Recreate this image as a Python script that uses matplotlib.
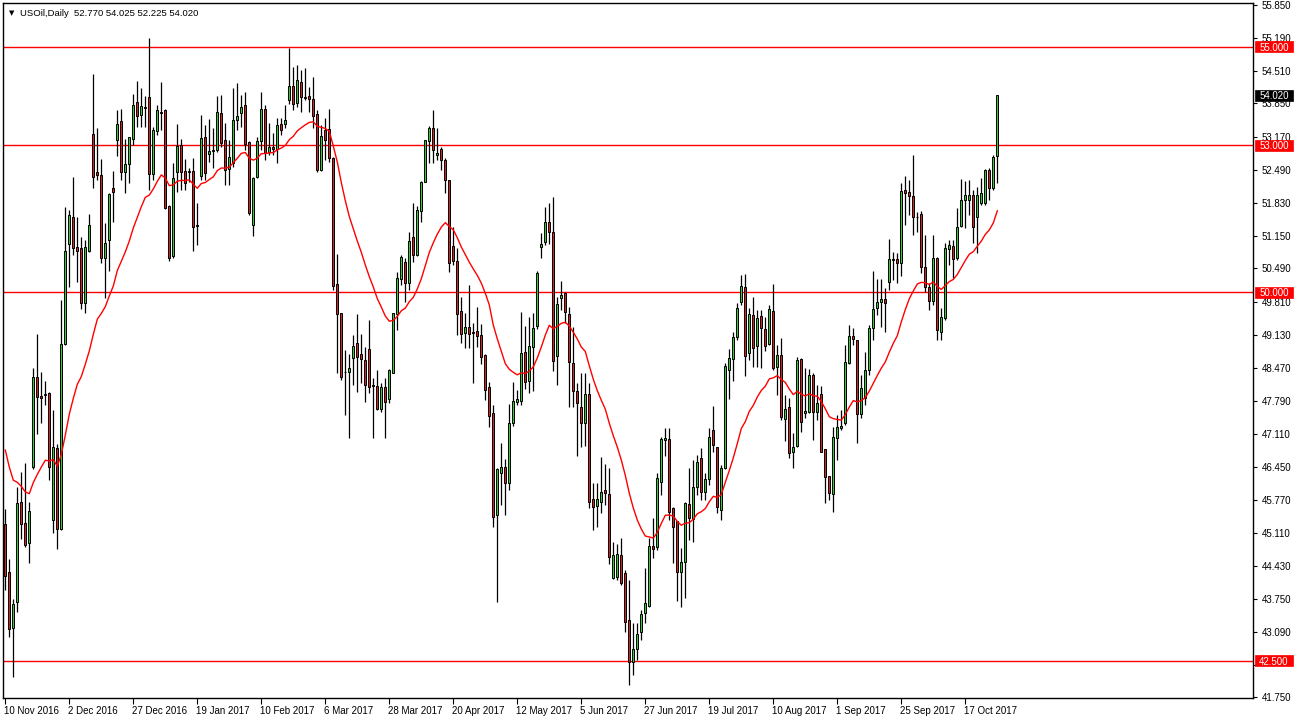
import matplotlib
matplotlib.use("Agg")
import matplotlib.pyplot as plt
import matplotlib.transforms as mtransforms
from matplotlib.patches import Rectangle

# USOil daily, 10 Nov 2016 .. 27 Oct 2017
opens = [45.28, 44.31, 43.16, 43.69, 45.73, 45.30, 44.90, 46.44, 48.28, 47.89,
         47.93, 47.95, 45.36, 46.83, 45.18, 48.95, 50.99, 51.54, 50.93, 50.91,
         49.79, 50.84, 53.23, 52.45, 52.39, 50.70, 51.07, 52.13, 53.11, 53.49,
         52.45, 52.62, 53.13, 53.88, 53.61, 53.78, 53.98, 52.41, 53.29, 53.68,
         53.72, 51.76, 50.74, 52.45, 53.00, 52.47, 52.47, 52.47, 51.37, 52.37,
         53.17, 52.82, 52.90, 52.90, 53.66, 53.11, 52.51, 52.64, 53.51, 53.66,
         53.82, 53.06, 51.37, 52.35, 53.08, 53.74, 52.86, 52.96, 52.92, 53.43,
         53.43, 53.92, 54.21, 53.86, 54.29, 53.98, 54.00, 53.94, 53.63, 52.49,
         53.31, 53.33, 52.74, 50.17, 49.58, 48.38, 48.38, 48.67, 48.97, 48.75,
         48.62, 48.85, 48.11, 48.09, 47.63, 48.07, 47.83, 48.36, 49.56, 50.27,
         50.62, 50.19, 51.13, 50.76, 51.66, 52.25, 53.08, 53.35, 52.80, 52.92,
         52.70, 52.29, 50.95, 50.64, 49.62, 49.17, 49.30, 49.19, 49.22, 49.13,
         48.73, 48.07, 47.54, 45.47, 46.32, 46.44, 46.12, 47.34, 47.77, 47.79,
         48.79, 48.20, 48.89, 49.32, 50.93, 51.03, 51.44, 51.23, 48.71, 49.89,
         49.99, 49.56, 48.56, 47.99, 47.67, 47.34, 47.93, 45.79, 45.65, 45.73,
         45.98, 45.90, 44.18, 44.20, 44.65, 44.29, 43.33, 42.47, 42.74, 43.08,
         43.47, 43.61, 44.84, 44.82, 46.14, 46.99, 47.02, 45.61, 45.34, 44.31,
         44.51, 45.69, 45.39, 46.04, 46.63, 45.94, 46.20, 47.20, 46.85, 45.57,
         46.42, 48.42, 48.64, 49.09, 49.81, 50.11, 48.77, 49.54, 48.91, 49.52,
         49.26, 48.95, 49.62, 48.48, 48.73, 47.42, 47.67, 46.75, 46.87, 48.64,
         47.54, 47.56, 48.32, 47.56, 47.93, 46.81, 46.26, 45.90, 47.04, 47.24,
         47.34, 48.56, 49.11, 49.03, 47.52, 47.85, 48.42, 49.28, 49.68, 49.81,
         49.87, 50.21, 50.68, 50.68, 50.60, 52.09, 52.05, 51.96, 51.54, 51.60,
         50.52, 50.11, 49.83, 50.70, 49.19, 49.48, 50.89, 50.95, 50.70, 51.35,
         51.88, 51.88, 51.99, 51.54, 51.82, 51.82, 52.49, 52.13, 52.770]

highs = [45.59, 44.57, 43.76, 46.04, 46.34, 46.53, 45.73, 48.46, 49.15, 48.38,
         48.20, 47.97, 47.61, 46.91, 49.85, 51.74, 51.68, 52.35, 51.54, 51.13,
         51.07, 51.60, 54.45, 53.35, 52.72, 51.41, 52.03, 52.47, 53.72, 53.74,
         53.13, 53.17, 54.04, 54.31, 54.16, 54.00, 55.18, 53.37, 53.82, 54.29,
         53.73, 51.78, 52.64, 53.43, 53.13, 52.72, 52.54, 52.74, 51.82, 53.61,
         53.41, 53.53, 53.35, 54.00, 54.02, 53.45, 53.11, 54.16, 54.27, 54.02,
         54.08, 53.08, 52.35, 53.17, 54.08, 53.82, 53.45, 53.25, 53.55, 53.55,
         53.82, 54.98, 54.59, 54.63, 54.53, 54.57, 54.19, 54.39, 53.72, 53.41,
         53.55, 53.74, 52.75, 50.78, 49.59, 48.83, 48.75, 49.13, 49.56, 49.15,
         48.89, 49.44, 48.26, 48.42, 48.15, 48.26, 48.44, 49.59, 50.42, 50.76,
         50.70, 51.23, 51.82, 51.76, 52.26, 53.11, 53.39, 53.72, 53.35, 52.96,
         52.74, 52.30, 51.33, 50.91, 49.91, 49.58, 50.15, 49.38, 49.70, 49.36,
         48.74, 48.18, 47.71, 46.42, 46.93, 46.61, 47.73, 48.18, 48.01, 49.60,
         49.32, 49.50, 49.58, 50.44, 51.21, 51.74, 51.82, 51.94, 49.91, 50.23,
         50.01, 49.70, 49.30, 48.15, 48.36, 48.36, 48.15, 46.12, 46.12, 46.65,
         46.51, 46.42, 44.92, 44.88, 44.99, 44.35, 44.14, 43.27, 43.27, 43.53,
         44.39, 44.99, 45.41, 46.32, 47.06, 47.24, 47.24, 45.62, 45.35, 44.79,
         45.73, 46.42, 46.59, 46.69, 46.83, 46.32, 47.24, 47.69, 46.86, 46.49,
         48.56, 48.85, 49.19, 49.79, 50.36, 50.38, 49.68, 49.91, 49.64, 49.64,
         49.50, 49.74, 50.17, 48.93, 49.07, 47.91, 47.85, 47.14, 48.68, 48.66,
         48.46, 48.44, 48.36, 48.11, 48.09, 46.82, 46.27, 47.26, 47.50, 47.61,
         48.93, 49.34, 49.28, 49.04, 48.32, 48.79, 49.34, 50.44, 50.27, 50.27,
         50.09, 51.09, 50.82, 50.80, 52.23, 52.37, 52.29, 52.80, 51.64, 51.66,
         51.17, 50.19, 51.17, 50.72, 49.68, 51.01, 51.07, 51.07, 51.72, 52.31,
         52.27, 52.29, 52.09, 52.15, 52.33, 52.51, 52.53, 52.80, 54.025]

lows = [43.94, 42.98, 42.17, 43.49, 44.98, 44.82, 44.49, 46.40, 47.12, 47.34,
        47.71, 46.18, 45.10, 44.77, 45.16, 48.93, 50.11, 50.76, 50.21, 49.66,
        49.58, 50.82, 52.13, 52.29, 50.60, 49.89, 50.44, 51.44, 52.78, 52.29,
        52.03, 52.23, 53.00, 53.37, 53.37, 53.37, 52.09, 52.29, 53.21, 53.31,
        51.70, 50.64, 50.70, 52.05, 52.09, 52.09, 52.25, 50.84, 50.97, 52.29,
        52.29, 52.66, 52.54, 52.86, 52.96, 52.19, 52.19, 52.56, 53.31, 53.37,
        52.90, 51.58, 51.15, 52.34, 52.90, 52.70, 52.80, 52.80, 52.64, 53.21,
        53.35, 53.84, 53.72, 53.78, 53.68, 53.92, 53.68, 53.35, 52.45, 52.48,
        52.70, 52.66, 50.05, 48.36, 48.22, 47.50, 47.04, 48.12, 47.97, 48.16,
        47.77, 47.95, 47.04, 47.61, 47.56, 47.04, 47.75, 48.35, 49.24, 50.15,
        49.81, 50.05, 50.62, 50.75, 51.44, 52.24, 52.64, 52.64, 52.70, 52.49,
        52.03, 50.42, 50.56, 49.13, 48.97, 48.87, 48.87, 48.16, 48.89, 48.54,
        47.81, 47.26, 45.22, 43.69, 45.67, 45.47, 45.98, 47.28, 47.71, 47.71,
        48.03, 47.95, 47.99, 49.26, 50.70, 50.97, 50.99, 48.40, 48.12, 49.64,
        49.38, 47.67, 47.67, 46.67, 46.85, 46.87, 45.61, 45.16, 45.22, 45.51,
        45.67, 44.47, 44.17, 44.14, 44.04, 43.08, 42.00, 42.21, 42.51, 42.92,
        43.27, 43.60, 44.59, 44.75, 45.87, 46.67, 45.36, 44.49, 43.72, 43.59,
        43.78, 44.96, 44.92, 45.87, 45.77, 45.77, 46.08, 46.75, 45.51, 45.36,
        46.41, 47.83, 48.20, 49.03, 49.74, 48.30, 48.62, 48.48, 48.48, 48.46,
        48.81, 48.93, 48.42, 47.91, 47.40, 46.97, 46.63, 46.42, 46.86, 47.16,
        47.44, 47.54, 47.00, 47.40, 46.74, 45.71, 45.77, 45.53, 46.59, 47.20,
        47.30, 48.55, 48.93, 46.93, 47.44, 47.71, 48.32, 49.03, 49.54, 49.30,
        49.19, 50.05, 50.25, 50.19, 50.34, 51.37, 51.58, 51.17, 51.23, 50.40,
        50.01, 49.64, 49.74, 49.03, 49.03, 49.44, 50.56, 50.29, 50.66, 51.34,
        51.31, 51.58, 51.01, 50.80, 51.78, 51.78, 51.88, 52.09, 52.225]

closes = [44.22, 43.14, 43.65, 45.71, 45.28, 44.86, 45.55, 48.28, 47.87, 47.86,
          47.91, 46.44, 46.85, 45.18, 48.95, 50.84, 51.58, 50.91, 50.84, 49.79,
          50.93, 51.37, 52.35, 52.39, 50.70, 51.01, 52.01, 52.05, 53.43, 52.45,
          52.62, 53.17, 53.82, 53.59, 53.80, 53.76, 52.41, 53.31, 53.72, 53.66,
          51.72, 50.70, 52.33, 52.98, 52.45, 52.23, 52.45, 51.33, 51.35, 53.15,
          52.43, 52.88, 52.88, 53.68, 53.04, 52.49, 52.76, 53.51, 53.59, 53.78,
          53.02, 51.62, 52.33, 53.08, 53.74, 52.84, 52.96, 52.92, 53.41, 53.31,
          53.51, 54.21, 53.84, 54.33, 53.98, 53.97, 53.94, 53.59, 52.49, 53.19,
          53.11, 52.74, 50.13, 49.56, 48.28, 48.37, 48.46, 48.91, 48.69, 48.64,
          48.11, 48.07, 48.10, 47.63, 48.07, 47.77, 48.42, 49.58, 50.29, 50.72,
          50.19, 51.05, 50.76, 51.68, 52.25, 53.10, 53.35, 52.90, 52.84, 52.70,
          52.29, 50.60, 50.64, 49.56, 49.15, 49.30, 49.15, 49.17, 49.11, 48.69,
          48.01, 47.48, 45.43, 46.40, 46.44, 46.12, 47.34, 47.79, 47.83, 48.77,
          48.18, 48.91, 49.28, 50.40, 50.99, 51.44, 51.23, 48.60, 49.77, 49.95,
          49.60, 48.58, 47.99, 47.75, 47.34, 47.93, 45.73, 45.63, 45.79, 45.94,
          45.92, 44.61, 44.65, 44.67, 44.08, 43.29, 42.47, 42.74, 43.04, 43.45,
          43.67, 44.84, 44.78, 46.22, 47.02, 47.04, 45.53, 45.22, 44.31, 44.51,
          45.71, 45.41, 46.04, 46.55, 45.94, 46.20, 47.06, 46.89, 45.63, 46.42,
          48.50, 48.66, 49.09, 49.68, 50.13, 48.71, 49.56, 48.87, 49.48, 49.28,
          48.91, 49.66, 48.46, 48.73, 47.46, 47.63, 46.73, 46.85, 48.62, 47.36,
          47.58, 48.32, 47.56, 47.75, 46.76, 46.24, 45.92, 47.06, 47.26, 47.28,
          48.58, 49.11, 49.05, 47.52, 48.05, 48.42, 49.28, 49.66, 49.81, 49.87,
          49.79, 50.68, 50.67, 50.60, 52.07, 52.03, 51.96, 51.54, 51.53, 50.52,
          50.11, 49.83, 50.70, 49.24, 49.50, 50.91, 50.97, 50.68, 51.33, 51.88,
          51.99, 51.99, 51.33, 51.99, 52.03, 52.49, 52.13, 52.76, 54.020]

ma_period = 20
ma_first = 46.79

date_labels = ["10 Nov 2016", "2 Dec 2016", "27 Dec 2016", "19 Jan 2017", "10 Feb 2017",
               "6 Mar 2017", "28 Mar 2017", "20 Apr 2017", "12 May 2017", "5 Jun 2017",
               "27 Jun 2017", "19 Jul 2017", "10 Aug 2017", "1 Sep 2017", "25 Sep 2017",
               "17 Oct 2017"]
label_step = 16

price_ticks = [55.850, 55.190, 54.510, 53.850, 53.170, 52.490, 51.830, 51.150, 50.490,
               49.810, 49.130, 48.470, 47.790, 47.110, 46.450, 45.770, 45.110, 44.430,
               43.750, 43.090, 42.410, 41.750]
hidden_ticks = [42.410]   # covered by the 42.500 marker in the terminal
levels = [55.0, 53.0, 50.0, 42.5]
title = "USOil,Daily  52.770 54.025 52.225 54.020"

# ---------------------------------------------------------------------------
W, H = 1296, 725
fig = plt.figure(figsize=(W / 100, H / 100), dpi=100)
fig.patch.set_facecolor("white")
ax = fig.add_axes([3 / W, 27 / H, 1250 / W, 695 / H])
ax.set_facecolor("white")

n = len(closes)
xs = list(range(n))

ema = [ma_first]
alpha = 2.0 / (ma_period + 1)
for c in closes[1:]:
    ema.append(ema[-1] + alpha * (c - ema[-1]))

# horizontal levels
for lv in levels:
    ax.axhline(lv, color="#ff0000", lw=1.0, zorder=1)

# wicks
ax.vlines(xs, lows, highs, color="black", lw=0.9, zorder=2)

# bodies
up = [c >= o for o, c in zip(opens, closes)]
bottoms = [min(o, c) for o, c in zip(opens, closes)]
heights = [abs(c - o) for o, c in zip(opens, closes)]
cols = ["#2fcf2f" if u else "#d42222" for u in up]
ax.bar(xs, heights, width=0.55, bottom=bottoms, color=cols,
       edgecolor="black", linewidth=0.7, zorder=3)

# moving average
ax.plot(xs, ema, color="#ff0000", lw=1.0, zorder=4)

ax.set_xlim(-0.575, 311.925)
ax.set_ylim(41.739, 55.896)

# axes styling
for sp in ax.spines.values():
    sp.set_color("black")
    sp.set_linewidth(1.0)

ax.yaxis.tick_right()
ax.set_yticks(price_ticks)
ax.set_yticklabels(["" if v in hidden_ticks else f"{v:.3f}" for v in price_ticks])
ax.tick_params(axis="y", direction="out", length=3, width=0.8, pad=3,
               labelsize=7, colors="black")
for t in ax.get_yticklabels():
    t.set_fontfamily("Liberation Sans")

label_pos = [i * label_step for i in range(len(date_labels))]
ax.set_xticks(label_pos)
ax.set_xticklabels(date_labels, ha="left")
ax.tick_params(axis="x", direction="out", length=4, width=0.8, pad=2,
               labelsize=7, colors="black")
offset = mtransforms.ScaledTranslation(-1 / 100, 0, fig.dpi_scale_trans)
for t in ax.get_xticklabels():
    t.set_fontfamily("Liberation Sans")
    t.set_transform(t.get_transform() + offset)

# price markers on the right axis (box 38 px wide, 11 px tall)
trans = mtransforms.blended_transform_factory(ax.transAxes, ax.transData)
px_per_unit = 695 / (55.896 - 41.739)
box_h = 11 / px_per_unit
box_x0 = 1.0016
box_w = 38 / 1250


def price_marker(value, face):
    ax.add_patch(Rectangle((box_x0, value - box_h / 2), box_w, box_h,
                           transform=trans, facecolor=face, edgecolor=face,
                           lw=0.5, clip_on=False, zorder=9))
    ax.text(box_x0 + box_w / 2, value, f"{value:.3f}", transform=trans,
            ha="center", va="center_baseline", fontsize=7,
            family="Liberation Sans", color="white", clip_on=False, zorder=10)


for lv in levels:
    price_marker(lv, "#ff0000")
price_marker(closes[-1], "black")

# header
fig.text(9 / W, 1 - 13 / H, "\u25bc", fontsize=5, color="black", va="center")
fig.text(20 / W, 1 - 13 / H, title, fontsize=6.8, family="Liberation Sans",
         color="black", va="center")

fig.savefig("out.png", dpi=100, facecolor="white")
